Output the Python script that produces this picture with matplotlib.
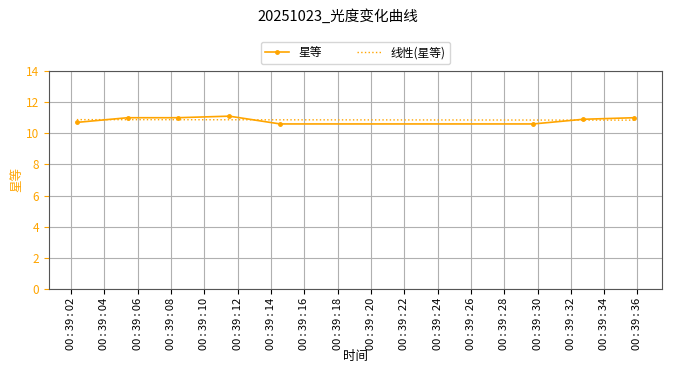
import matplotlib
matplotlib.use("Agg")
import matplotlib.pyplot as plt
import matplotlib.dates as mdates
import numpy as np
import pandas as pd

plt.rcParams['font.family'] = ['Noto Sans CJK SC', 'DejaVu Sans']
plt.rcParams['axes.unicode_minus'] = False

times = ["2025-10-23 00:39:02.35", "2025-10-23 00:39:05.40", "2025-10-23 00:39:08.40",
         "2025-10-23 00:39:11.50", "2025-10-23 00:39:14.55", "2025-10-23 00:39:29.75",
         "2025-10-23 00:39:32.75", "2025-10-23 00:39:35.80"]
mags = [10.7, 11.0, 11.0, 11.1, 10.6, 10.6, 10.9, 11.0]

t = pd.to_datetime(times)
xnum = mdates.date2num(t)
coef = np.polyfit(xnum, mags, 1)
fit = np.polyval(coef, xnum)

fig = plt.figure(figsize=(6.76, 3.76), dpi=100)
ax = fig.add_axes([49/676, 1-289/376, (662-49)/676, (289-71)/376])

ax.plot(t, mags, color='orange', marker='o', markersize=2.5, linewidth=1.2, label='星等')
ax.plot(t, fit, color='orange', linestyle=':', linewidth=1, label='线性(星等)')

ax.set_ylim(0, 14)
ax.set_yticks(range(0, 15, 2))
ax.tick_params(axis='y', colors='orange', labelsize=8.5)
ax.tick_params(axis='x', labelsize=8, labelrotation=90, pad=3)
ax.set_ylabel('星等', color='orange', fontsize=9, labelpad=2)
ax.set_xlabel('时间', fontsize=9, labelpad=0)
ax.xaxis.set_major_locator(mdates.SecondLocator(bysecond=range(0, 60, 2)))
ax.xaxis.set_major_formatter(mdates.DateFormatter('%H\u2009:\u2009%M\u2009:\u2009%S'))
ax.grid(True, color='#b0b0b0', linewidth=0.8)
for s in ax.spines.values():
    s.set_color('#555555')

fig.suptitle('20251023_光度变化曲线', fontsize=10.5, y=0.975)
ax.legend(loc='lower center', bbox_to_anchor=(0.5, 1.005), ncol=2, fontsize=8.5,
          frameon=True, columnspacing=3)

fig.savefig('out.png', dpi=100)
